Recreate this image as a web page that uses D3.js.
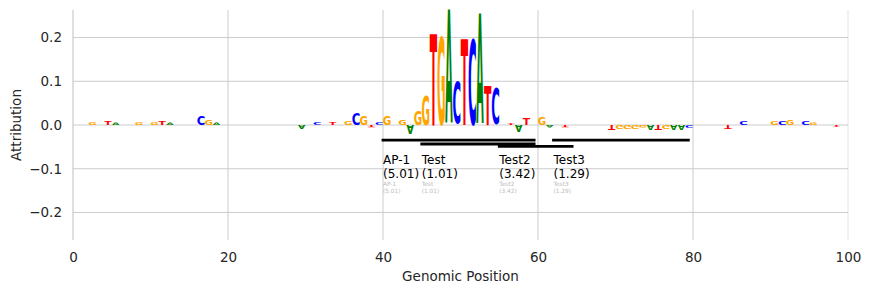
<!DOCTYPE html>
<html>
<head>
<meta charset="utf-8">
<script src="https://cdn.jsdelivr.net/npm/d3@7"></script>
<style>
  body { margin: 0; background: #fff; }
  svg { font-family: "DejaVu Sans", sans-serif; }
</style>
</head>
<body>
<svg width="871" height="294"></svg>
<script>
// attribution per position (only non-zero positions are listed)
const positions = [2, 4, 5, 8, 10, 11, 12, 16, 17, 18, 29, 31, 33, 35, 36, 37, 38, 39, 40, 42,
  43, 44, 45, 46, 47, 48, 49, 50, 51, 52, 53, 54, 56, 57, 58, 60, 61, 63, 69, 70,
  71, 72, 73, 74, 75, 76, 77, 78, 79, 84, 86, 90, 91, 92, 94, 95, 98];
const bases = ["G", "T", "A", "G", "G", "T", "A", "C", "G", "A", "A", "C", "T", "G", "C", "G", "T", "C", "G", "G",
  "A", "G", "G", "T", "G", "A", "C", "T", "C", "A", "T", "C", "T", "A", "T", "G", "A", "T", "T", "G",
  "G", "G", "G", "A", "T", "G", "A", "A", "C", "T", "C", "G", "C", "G", "C", "G", "T"];
const attributions = [0.007, 0.010, 0.006, 0.007, 0.007, 0.010, 0.006, 0.020, 0.011, 0.006,
  -0.009, 0.005, 0.007, 0.009, 0.029, 0.021, -0.005, 0.006, 0.020, 0.012,
  -0.021, 0.035, 0.068, 0.211, 0.208, 0.262, 0.100, 0.200, 0.202, 0.254,
  0.090, 0.087, 0.004, -0.015, 0.015, 0.017, -0.006, -0.005, -0.011, -0.010,
  -0.009, -0.009, -0.006, -0.012, -0.011, -0.010, -0.012, -0.012, -0.007, -0.009,
  0.010, 0.008, 0.008, 0.012, 0.008, 0.006, -0.004];

// motif annotations
const annotNames = ["AP-1", "Test", "Test2", "Test3"];
const annotScores = [5.01, 1.01, 3.42, 1.29];
const annotStarts = [40, 45, 55, 62];
const annotEnds = [59.5, 59.5, 64.4, 79.4];
const annotLevels = [-0.0347, -0.0434, -0.049, -0.0347];

const xTicks = [0, 20, 40, 60, 80, 100];
const yTicks = [-0.2, -0.1, 0.0, 0.1, 0.2];

const baseColor = {A: "#008000", C: "#0000ff", G: "#ffa500", T: "#ff0000"};

const svg = d3.select("svg");
const margin = {left: 73, right: 23, top: 10, bottom: 54};
const width = +svg.attr("width");
const height = +svg.attr("height");

const x = d3.scaleLinear().domain([0, 100]).range([margin.left, width - margin.right]);
const y = d3.scaleLinear().domain([-0.263, 0.263]).range([height - margin.bottom, margin.top]);

// grid
const grid = svg.append("g");
grid.selectAll("line.h").data(yTicks).enter().append("line")
  .attr("x1", x(0)).attr("x2", x(100))
  .attr("y1", d => y(d)).attr("y2", d => y(d))
  .attr("stroke", "#cccccc").attr("stroke-width", 1);
grid.selectAll("line.v").data(xTicks.filter(d => d > 0)).enter().append("line")
  .attr("x1", d => x(d)).attr("x2", d => x(d))
  .attr("y1", y(0.263)).attr("y2", y(-0.263))
  .attr("stroke", "#cccccc").attr("stroke-width", 1)
  .attr("opacity", d => d === 100 ? 0.5 : 1);

// left spine
svg.append("line")
  .attr("x1", x(0)).attr("x2", x(0))
  .attr("y1", y(0.263)).attr("y2", y(-0.263))
  .attr("stroke", "#cccccc").attr("stroke-width", 1.25);

// axes (no domain line, no ticks, only labels)
const xAxis = svg.append("g")
  .attr("transform", `translate(0,${y(-0.263)})`)
  .call(d3.axisBottom(x).tickValues(xTicks).tickSize(0).tickPadding(12));
const yAxis = svg.append("g")
  .attr("transform", `translate(${x(0)},0)`)
  .call(d3.axisLeft(y).tickValues(yTicks).tickSize(0).tickPadding(11)
    .tickFormat(d => d3.format(".1f")(d).replace("-", "\u2212")));
[xAxis, yAxis].forEach(a => {
  a.select(".domain").remove();
  a.selectAll("text").attr("font-size", 13.5).attr("fill", "#262626")
    .attr("font-family", "DejaVu Sans, sans-serif");
});

svg.append("text")
  .attr("x", (x(0) + x(100)) / 2).attr("y", 281)
  .attr("text-anchor", "middle").attr("font-size", 13.5).attr("fill", "#262626")
  .text("Genomic Position");
svg.append("text")
  .attr("transform", `translate(21,${(y(0.263) + y(-0.263)) / 2}) rotate(-90)`)
  .attr("text-anchor", "middle").attr("font-size", 13.5).attr("fill", "#262626")
  .text("Attribution");

// measure tight glyph boxes so letters can be stretched into their cells
const ctx = document.createElement("canvas").getContext("2d");
const FS = 100;
ctx.font = `bold ${FS}px "DejaVu Sans"`;
const glyph = {};
"ACGT".split("").forEach(ch => {
  const m = ctx.measureText(ch);
  glyph[ch] = {
    left: m.actualBoundingBoxLeft, right: m.actualBoundingBoxRight,
    asc: m.actualBoundingBoxAscent, desc: m.actualBoundingBoxDescent
  };
});

const letters = positions.map((p, i) => ({pos: p, base: bases[i], value: attributions[i]}));
const pad = 0.025;

svg.append("g")
  .selectAll("text").data(letters).enter().append("text")
  .attr("font-size", FS).attr("font-weight", "bold")
  .attr("font-family", "DejaVu Sans")
  .attr("fill", d => baseColor[d.base])
  .attr("transform", d => {
    const g = glyph[d.base];
    const gw = g.left + g.right, gh = g.asc + g.desc;
    const x0 = x(d.pos + pad), x1 = x(d.pos + 1 - pad);
    const sx = (x1 - x0) / gw;
    const sy = Math.abs(y(d.value) - y(0)) / gh;
    if (d.value >= 0) {
      return `translate(${x0},${y(d.value)}) scale(${sx},${sy}) translate(${g.left},${g.asc})`;
    }
    return `translate(${x0},${y(d.value)}) scale(${sx},${-sy}) translate(${g.left},${g.asc})`;
  })
  .text(d => d.base);

// annotation lines and labels
const annots = annotNames.map((n, i) => ({
  name: n, score: annotScores[i], start: annotStarts[i], end: annotEnds[i], level: annotLevels[i]
}));
const ann = svg.append("g");
ann.selectAll("line").data(annots).enter().append("line")
  .attr("x1", d => x(d.start)).attr("x2", d => x(d.end))
  .attr("y1", d => y(d.level)).attr("y2", d => y(d.level))
  .attr("stroke", "#000").attr("stroke-width", 2.8).attr("stroke-linecap", "square");

const labels = ann.selectAll("g.lab").data(annots).enter().append("g");
labels.append("text")
  .attr("x", d => x(d.start)).attr("y", 164.3)
  .attr("font-size", 12).attr("fill", "#000")
  .text(d => d.name);
labels.append("text")
  .attr("x", d => x(d.start)).attr("y", 178.3)
  .attr("font-size", 12).attr("fill", "#000")
  .text(d => `(${d.score.toFixed(2)})`);
labels.append("text")
  .attr("x", d => x(d.start)).attr("y", 186)
  .attr("font-size", 5.8).attr("fill", "#bbbbbb")
  .text(d => d.name);
labels.append("text")
  .attr("x", d => x(d.start)).attr("y", 193.3)
  .attr("font-size", 5.8).attr("fill", "#bbbbbb")
  .text(d => `(${d.score.toFixed(2)})`);
</script>
</body>
</html>
